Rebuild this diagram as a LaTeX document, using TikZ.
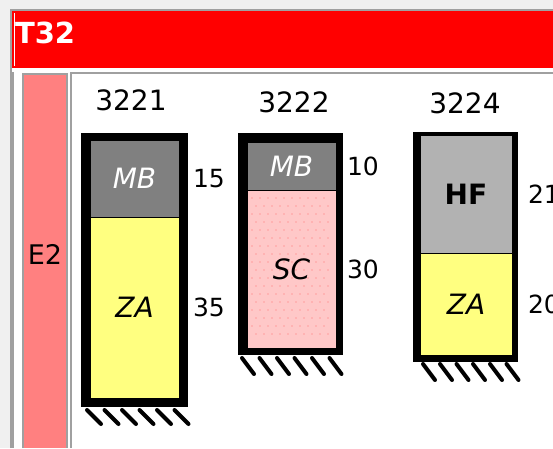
\documentclass[tikz,border=0pt]{standalone}
\usepackage{fontspec}
\setmainfont{DejaVu Sans}
\usepackage{tikz}
\usetikzlibrary{positioning}
\definecolor{pagebg}{RGB}{240,240,240}
\definecolor{tblgray}{RGB}{160,160,160}
\definecolor{hdrred}{RGB}{255,0,0}
\definecolor{rowpink}{RGB}{255,128,128}
\definecolor{mbgray}{RGB}{128,128,128}
\definecolor{hfgray}{RGB}{178,178,178}
\definecolor{zayellow}{RGB}{255,255,128}
\definecolor{scpink}{RGB}{255,200,200}

\begin{document}
\begin{tikzpicture}[x=1pt, y=-1pt,
  every node/.style={inner sep=0pt, outer sep=0pt},
  layer/.style={draw=black, line width=1pt, minimum width=89pt, anchor=north, font=\fontsize{28}{28}\selectfont\itshape},
  mb/.style={layer, fill=mbgray, text=white},
  za/.style={layer, fill=zayellow},
  sc/.style={layer, fill=scpink},
  hf/.style={layer, fill=hfgray, font=\fontsize{28}{28}\selectfont\bfseries},
  casing/.style={fill=black, anchor=north west},
  depth/.style={font=\fontsize{25}{25}\selectfont},
  colname/.style={font=\fontsize{28}{28}\selectfont},
  hatch/.style={line width=4pt, line cap=round}
]
\useasboundingbox (0,0) rectangle (553,448);
\clip (0,0) rectangle (553,448);

% table
\fill[pagebg] (0,0) rectangle (553,448);
\fill[white] (10,9) rectangle (553,448);
\draw[tblgray, line width=2pt] (11,448) -- (11,10) -- (553,10);
\fill[hdrred] (12,11) rectangle (553,68);
\draw[white, line width=1pt] (14,13) -- (14,66);
\node[anchor=west, text=white, font=\fontsize{29}{29}\selectfont\bfseries] (hdr) at (15,33) {T32};
\draw[tblgray, line width=2pt] (13,72) -- (13,448);
\draw[tblgray, line width=2pt] (23,448) -- (23,74) -- (67,74) -- (67,448);
\fill[rowpink] (24,75) rectangle (66,448);
\node[font=\fontsize{27}{27}\selectfont] (e2) at (45,254) {E2};
\draw[tblgray, line width=2pt] (70.5,448) -- (70.5,73) -- (553,73);

% column 3221
\node[colname] (name1) at (131,100) {3221};
\node[casing, minimum width=107pt, minimum height=274pt] (case1) at (81,133) {};
\node[mb, minimum height=77pt] (mb1) at (134.5,140) {MB};
\node[za, minimum height=181pt, below=0pt of mb1] (za1) {ZA};
\node[depth, right=14pt of mb1, anchor=west] (d11) {15};
\node[depth, right=14pt of za1, anchor=west] (d12) {35};
\foreach \x in {87,104.5,122,139.5,157,174.5}
  \draw[hatch] (\x,410) -- ++(14,14);

% column 3222
\node[colname] (name2) at (294,102) {3222};
\node[casing, minimum width=105pt, minimum height=222pt] (case2) at (238,133) {};
\node[mb, minimum height=48pt] (mb2) at (291.5,142) {MB};
\node[sc, minimum height=158pt, below=0pt of mb2] (sc2) {};
\foreach \r in {0,...,17}
  \foreach \c in {0,...,9}
    \fill[red!45!scpink] ({252+\c*8+mod(\r,2)*4},{198+\r*8}) circle (0.7pt);
\node[font=\fontsize{28}{28}\selectfont\itshape] at (sc2) {SC};
\node[depth, right=11pt of mb2, anchor=west] (d21) {10};
\node[depth, right=11pt of sc2, anchor=west] (d22) {30};
\foreach \x in {242,259.5,277,294.5,312,329.5}
  \draw[hatch] (\x,358) -- ++(12,16);

% column 3224
\node[colname] (name3) at (465,103) {3224};
\node[casing, minimum width=105pt, minimum height=230pt] (case3) at (413,132) {};
\node[hf, minimum width=92pt, minimum height=118pt] (hf3) at (466,135) {HF};
\node[za, minimum width=92pt, minimum height=102pt, below=0pt of hf3] (za3) {ZA};
\node[depth, right=16pt of hf3, anchor=west] (d31) {21};
\node[depth, right=16pt of za3, anchor=west] (d32) {20};
\foreach \x in {423,440,456.5,473,490,506.5}
  \draw[hatch] (\x,364) -- ++(12,16);
\end{tikzpicture}
\end{document}
